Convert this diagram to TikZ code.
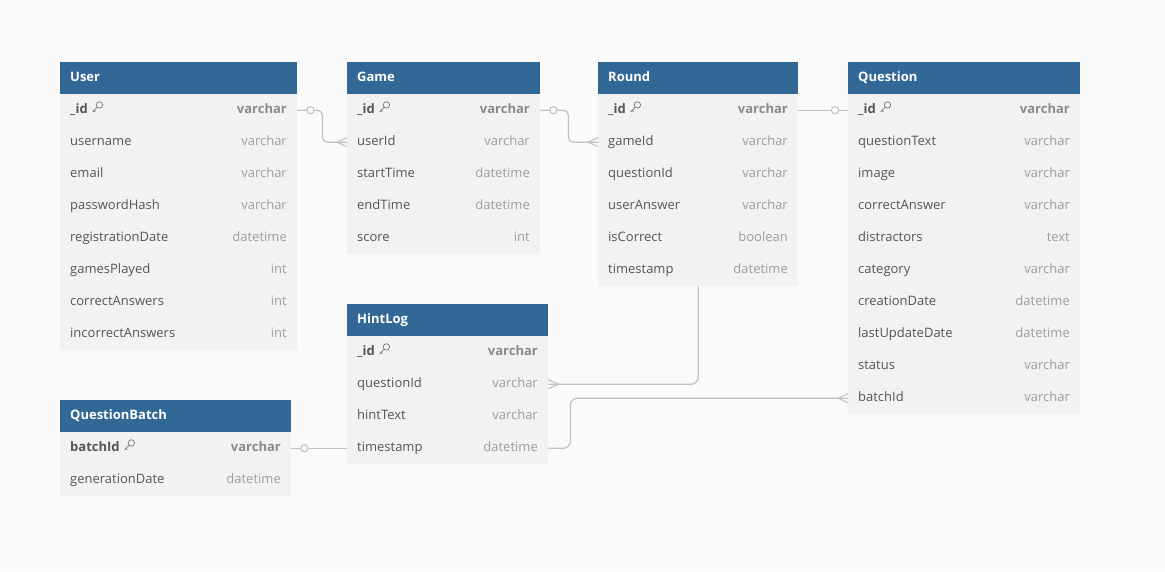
\documentclass[tikz,border=0pt]{standalone}
\usepackage{fontspec}
\setmainfont{Open Sans}
\usetikzlibrary{calc}
\definecolor{bgc}{HTML}{FAFAFA}
\definecolor{hdrc}{HTML}{316896}
\definecolor{rowc}{HTML}{F2F2F2}
\definecolor{namec}{HTML}{555555}
\definecolor{typec}{HTML}{9E9E9E}
\definecolor{keytypec}{HTML}{8A8A8A}
\definecolor{iconc}{HTML}{7A7A7A}
\definecolor{linec}{HTML}{C2C2C6}
\tikzset{
  hdr/.style={draw=none, fill=hdrc, rectangle, minimum height=32, inner sep=0, anchor=north west},
  rowbox/.style={draw=none, fill=rowc, rectangle, minimum height=32, inner sep=0, anchor=north west},
  hdrtxt/.style={inner sep=0, anchor=base west, text=white, font=\fontsize{13}{15}\selectfont\bfseries},
  fname/.style={inner sep=0, anchor=base west, text=namec, font=\fontsize{13}{15}\selectfont},
  ftype/.style={inner sep=0, anchor=base east, text=typec, font=\fontsize{13}{15}\selectfont},
  kname/.style={inner sep=0, anchor=base west, text=namec, font=\fontsize{13}{15}\selectfont\bfseries},
  ktype/.style={inner sep=0, anchor=base east, text=keytypec, font=\fontsize{13}{15}\selectfont\bfseries},
  conn/.style={draw=linec, line width=1.3pt},
  onecirc/.style={draw=linec, line width=1.1pt, fill=bgc},
  keyicon/.pic={
    \draw[draw=iconc, line width=0.75pt] (8,-8.3) circle (3.2);
    \draw[draw=iconc, line width=0.75pt, line cap=round, line join=round] (5.8,-6.1) -- (1.2,-1.3) (2.6,-2.8) -- (3.9,-1.5);
  }
}
% #1 id, #2 x, #3 y, #4 width, #5 title, #6 key name, #7 key type, #8 other rows
\newcommand\ertable[8]{%
  \node[hdr, minimum width=#4] (#1) at (#2,#3) {};
  \node[hdrtxt] (#1-title) at (#2+10,#3+19.2) {#5};
  \node[rowbox, minimum width=#4] (#1-1) at (#2,#3+32) {};
  \node[kname] (#1-1-n) at (#2+10,#3+51.2) {#6};
  \pic at ($(#1-1-n.base east)+(3.5,0)$) {keyicon};
  \node[ktype] (#1-1-t) at (#2+#4-10,#3+51.2) {#7};
  \foreach \n/\t [count=\i from 2] in {#8} {
    \node[rowbox, minimum width=#4] (#1-\i) at (#2,#3+32*\i) {};
    \node[fname] (#1-\i-n) at (#2+10,#3+32*\i+19.2) {\n};
    \node[ftype] (#1-\i-t) at (#2+#4-10,#3+32*\i+19.2) {\t};
  }%
}
\newcommand\crowfoot[2]{%
  \draw[conn, line width=1.1pt] ($(#1)+(#2*10,0)$) -- ($(#1)+(0,-4.5)$)
    ($(#1)+(#2*10,0)$) -- ($(#1)+(0,4.5)$);%
}
\begin{document}
\begin{tikzpicture}[x=1pt,y=-1pt]
\fill[bgc] (0,0) rectangle (1165,571);
\useasboundingbox (0,0) rectangle (1165,571);

\ertable{User}{60}{62}{237}{User}{\_id}{varchar}{username/varchar,email/varchar,passwordHash/varchar,registrationDate/datetime,gamesPlayed/int,correctAnswers/int,incorrectAnswers/int}
\ertable{Game}{347}{62}{193}{Game}{\_id}{varchar}{userId/varchar,startTime/datetime,endTime/datetime,score/int}
\ertable{Round}{598}{62}{200}{Round}{\_id}{varchar}{gameId/varchar,questionId/varchar,userAnswer/varchar,isCorrect/boolean,timestamp/datetime}
\ertable{Question}{848}{62}{232}{Question}{\_id}{varchar}{questionText/varchar,image/varchar,correctAnswer/varchar,distractors/text,category/varchar,creationDate/datetime,lastUpdateDate/datetime,status/varchar,batchId/varchar}
\ertable{HintLog}{347}{304}{201}{HintLog}{\_id}{varchar}{questionId/varchar,hintText/varchar,timestamp/datetime}
\ertable{QuestionBatch}{60}{400}{231}{QuestionBatch}{batchId}{varchar}{generationDate/datetime}

% User._id -> Game.userId
\draw[conn, rounded corners=5] (User-1.east) -- ++(25,0) |- (Game-2.west);
\draw[onecirc] ($(User-1.east)+(13,0)$) circle (3.6);
\crowfoot{Game-2.west}{-1}
% Game._id -> Round.gameId
\draw[conn, rounded corners=5] (Game-1.east) -- ++(28,0) |- (Round-2.west);
\draw[onecirc] ($(Game-1.east)+(13,0)$) circle (3.6);
\crowfoot{Round-2.west}{-1}
% Round._id -> Question._id
\draw[conn] (Round-1.east) -- (Question-1.west);
\draw[onecirc] ($(Question-1.west)+(-13,0)$) circle (3.6);
% Round -> HintLog.questionId
\draw[conn, rounded corners=7] (Round-6.south) |- (HintLog-2.east);
\crowfoot{HintLog-2.east}{1}
% HintLog.timestamp -> Question.batchId
\draw[conn, rounded corners=7] (HintLog-4.east) -- ++(22,0) |- (Question-10.west);
\crowfoot{Question-10.west}{-1}
% QuestionBatch.batchId -> HintLog.timestamp
\draw[conn] (QuestionBatch-1.east) -- (HintLog-4.west);
\draw[onecirc] ($(QuestionBatch-1.east)+(13,0)$) circle (3.6);
\end{tikzpicture}
\end{document}
